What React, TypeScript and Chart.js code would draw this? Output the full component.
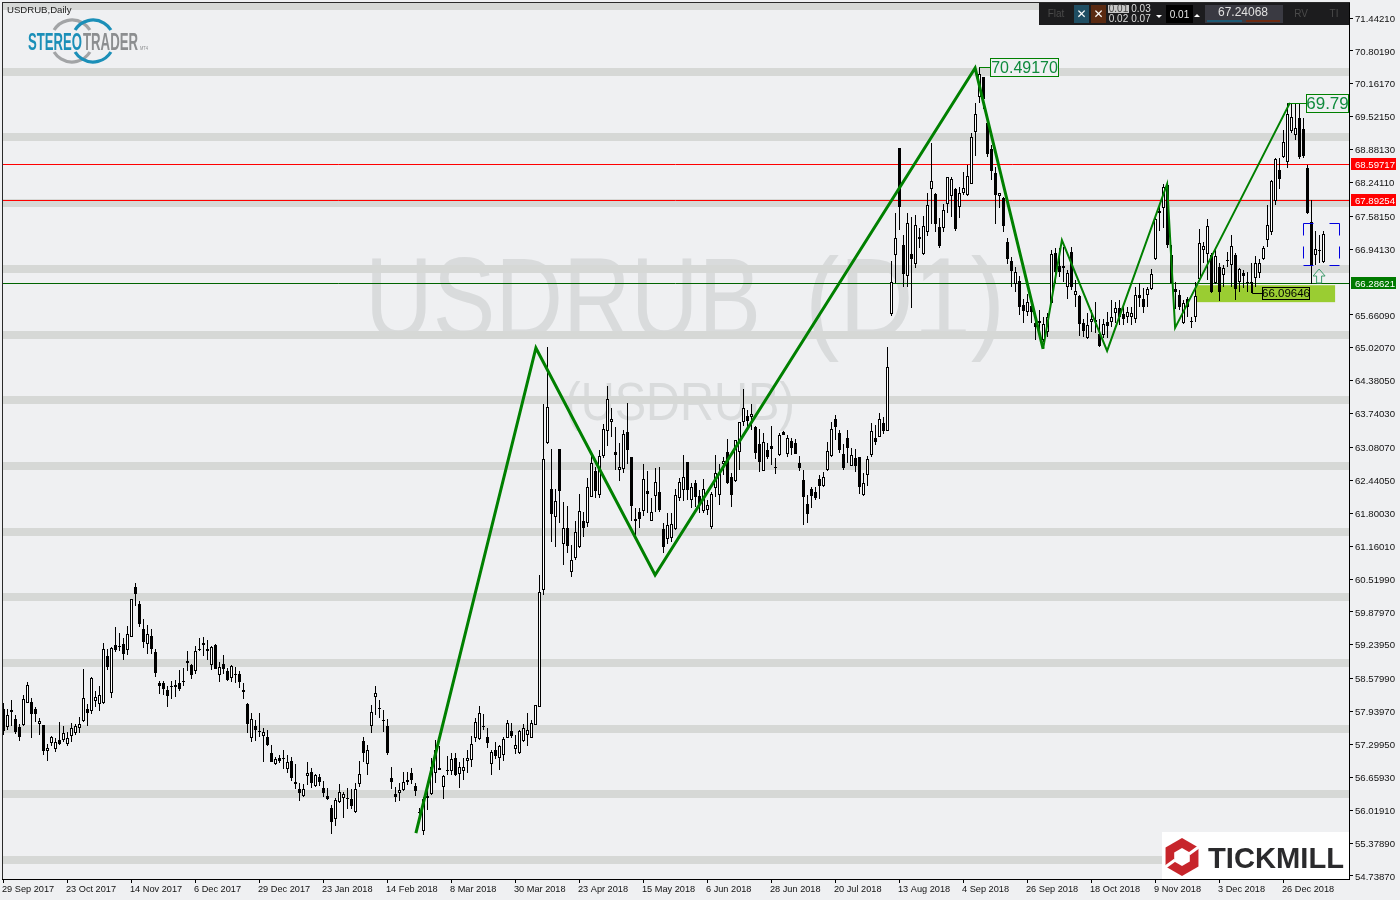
import React, { useEffect, useRef } from "react";
import { Chart, registerables } from "chart.js";

Chart.register(...registerables);

const dateLabels = ["29 Sep 2017","23 Oct 2017","14 Nov 2017","6 Dec 2017","29 Dec 2017","23 Jan 2018","14 Feb 2018","8 Mar 2018","30 Mar 2018","23 Apr 2018","15 May 2018","6 Jun 2018","28 Jun 2018","20 Jul 2018","13 Aug 2018","4 Sep 2018","26 Sep 2018","18 Oct 2018","9 Nov 2018","3 Dec 2018","26 Dec 2018"];
const priceTicks = [71.4421,70.8019,70.1617,69.5215,68.8813,68.2411,67.5815,66.9413,65.6609,65.0207,64.3805,63.7403,63.0807,62.4405,61.8003,61.1601,60.5199,59.8797,59.2395,58.5799,57.9397,57.2995,56.6593,56.0191,55.3789,54.7387];
const bandLevels = [70.391,69.116,67.84,66.556,65.271,64.005,62.72,61.435,60.17,58.885,57.6,56.335,55.05];
const topBandLevel = 71.666;
const redLevels = [68.59717,67.89254];
const greenLevel = 66.28621;

const zigzagThickX = [103.1,133.1,162.9,242.9,259.9];
const zigzagThickY = [55.575,65.018,60.598,70.469,65.0];
const zigzagThinX = [259.9,264.6,275.9,290.9,292.9,321.6];
const zigzagThinY = [65.0,67.12,64.96,68.21,65.41,69.79];

const highs = [
58.10,57.98,58.17,57.87,57.70,58.26,58.51,58.20,58.02,57.82,
57.68,57.30,57.47,57.42,57.73,57.65,57.54,57.71,57.70,57.84,
58.77,58.09,58.61,58.34,58.44,59.27,59.15,59.20,59.59,59.46,
59.37,59.61,60.14,60.44,60.09,59.75,59.63,59.54,59.15,58.53,
58.54,58.44,58.54,58.55,58.75,58.79,59.12,58.86,59.22,59.37,
59.39,59.33,59.22,59.25,58.91,59.04,58.78,58.85,58.81,58.72,
58.49,58.10,57.92,57.78,57.92,57.61,57.59,57.29,57.06,57.09,
57.19,57.09,57.06,56.91,56.54,56.52,56.95,56.85,56.72,56.72,
56.58,56.46,56.12,56.25,56.52,56.38,56.45,56.43,56.54,56.97,
57.44,57.29,58.07,58.44,58.17,57.97,57.79,56.87,56.48,56.54,
56.76,56.76,56.85,56.54,56.07,56.28,56.48,57.03,57.39,57.26,
56.70,57.07,57.13,57.13,56.96,57.03,57.20,57.46,57.81,58.05,
57.89,57.61,57.19,57.35,57.29,57.45,57.78,57.71,57.48,57.59,
57.69,57.91,57.78,58.07,60.60,63.93,65.03,63.06,62.28,63.05,
62.02,61.94,61.19,61.64,62.17,61.83,62.48,62.91,62.71,63.03,
63.54,64.28,63.84,63.47,63.16,63.42,63.94,62.90,61.91,61.90,
62.75,62.63,62.09,62.69,62.71,61.62,61.80,61.80,62.27,62.48,
62.93,62.80,62.38,62.45,62.25,62.46,62.06,62.22,62.93,62.76,
62.90,63.24,62.58,63.23,63.58,64.21,63.81,63.92,63.49,63.45,
63.36,63.16,63.50,62.87,63.36,63.41,63.32,63.26,63.24,62.91,
62.64,62.15,62.32,62.32,62.54,62.60,63.19,63.58,63.71,63.42,
63.15,63.43,63.08,63.06,62.90,62.58,62.91,63.55,63.52,63.76,
63.68,65.03,66.71,67.64,68.91,67.22,67.64,67.57,67.61,67.35,
67.59,68.04,69.00,68.03,67.54,67.83,68.35,68.35,68.13,68.16,
68.45,68.58,69.21,69.78,70.48,70.29,69.55,68.97,68.55,68.03,
67.96,67.15,66.79,66.60,66.41,65.98,66.06,65.85,65.59,65.76,
65.63,65.69,66.92,66.96,66.96,66.99,66.54,66.98,66.34,66.05,
65.59,65.69,65.76,65.92,65.59,65.58,65.72,65.95,65.92,65.95,
65.84,65.82,65.82,66.21,66.28,66.18,66.21,66.55,67.54,67.80,
68.22,68.24,67.02,66.31,66.15,65.95,66.02,65.63,66.31,67.33,
67.09,67.52,66.86,66.93,66.67,66.63,66.89,67.22,66.86,66.57,
66.54,66.50,66.67,66.80,66.76,67.00,67.80,68.29,68.71,68.71,
69.26,69.78,69.78,69.78,69.78,69.49,68.58,67.89,67.30,67.22,
67.30];

const lows = [
57.48,57.58,57.65,57.50,57.37,57.66,58.11,57.43,57.74,57.49,
57.09,56.98,57.26,57.16,57.29,57.34,57.26,57.35,57.48,57.52,
57.74,57.65,57.89,58.02,57.96,58.09,58.75,58.20,59.09,59.11,
58.94,59.04,59.40,60.00,59.58,59.18,59.07,59.06,58.62,58.28,
58.26,58.02,58.18,58.23,58.34,58.44,58.72,58.57,58.68,59.11,
59.03,58.94,58.75,58.76,58.52,58.68,58.53,58.52,58.50,58.40,
58.18,57.53,57.35,57.37,57.45,56.95,57.26,56.95,56.89,56.93,
56.82,56.75,56.59,56.43,56.19,56.28,56.51,56.46,56.48,56.49,
56.28,56.21,55.56,55.72,56.15,55.86,56.05,56.05,55.97,56.48,
56.96,56.70,57.52,57.87,57.82,57.55,57.09,56.43,56.18,56.20,
56.40,56.51,56.53,56.30,55.89,55.54,56.02,56.31,56.54,56.80,
56.24,56.70,56.70,56.69,56.46,56.61,56.75,56.87,57.35,57.39,
57.59,57.24,56.70,57.01,56.80,56.98,57.42,57.42,57.11,57.11,
57.35,57.26,57.42,57.68,58.03,60.20,63.15,61.25,61.15,61.62,
60.79,61.02,60.55,60.89,61.13,61.34,61.54,62.11,62.09,62.09,
62.88,63.11,63.29,62.64,62.43,62.59,62.75,61.64,61.34,61.51,
61.75,61.81,61.64,61.83,61.83,61.03,61.20,61.25,61.47,62.03,
62.03,62.06,61.90,61.93,61.80,61.81,61.77,61.50,62.12,61.96,
62.54,62.37,61.93,62.40,62.64,63.49,63.45,63.42,62.85,62.61,
62.63,62.85,62.74,62.56,62.91,63.32,62.90,62.93,62.95,62.63,
61.57,61.62,61.90,62.05,62.08,62.32,62.63,62.90,63.23,62.97,
62.64,62.77,62.72,62.61,62.17,62.14,62.33,62.90,63.13,63.28,
63.34,63.41,65.64,66.29,67.31,66.21,66.21,65.80,66.57,66.96,
66.83,67.19,67.44,67.28,66.96,67.28,67.65,67.57,67.30,67.54,
67.99,67.98,68.21,68.75,69.78,69.68,68.74,68.29,67.44,67.74,
67.28,66.65,66.21,66.10,65.66,65.50,65.64,65.50,65.17,65.37,
65.14,65.24,65.89,66.28,66.40,66.31,65.97,66.15,65.82,65.25,
65.24,65.19,65.33,65.30,65.04,65.21,65.21,65.43,65.50,65.47,
65.47,65.51,65.47,65.50,65.82,65.70,65.82,66.15,66.74,67.30,
67.35,66.97,66.28,65.77,65.76,65.48,65.63,65.40,65.53,66.34,
66.67,66.34,66.08,66.26,65.94,66.21,66.60,66.21,65.95,66.11,
66.18,66.10,66.08,66.21,66.39,66.73,66.98,67.22,67.80,68.11,
68.71,68.52,69.20,69.07,68.69,68.71,67.63,66.26,66.63,66.67,
66.67];

const opens = [
57.98,57.63,57.97,57.79,57.63,57.68,58.11,58.12,57.99,57.70,
57.68,57.18,57.32,57.22,57.38,57.39,57.30,57.47,57.53,57.61,
57.76,57.98,57.96,58.15,58.08,58.11,59.02,58.30,59.24,59.21,
59.26,59.13,59.40,60.36,60.03,59.54,59.26,59.41,59.09,58.50,
58.49,58.36,58.43,58.45,58.49,58.53,58.92,58.84,58.72,59.16,
59.27,59.15,58.85,59.23,58.66,58.86,58.73,58.59,58.68,58.68,
58.35,58.08,57.42,57.65,57.57,57.46,57.44,57.13,56.92,57.04,
57.03,56.83,56.98,56.52,56.43,56.29,56.68,56.76,56.50,56.66,
56.45,56.30,56.06,55.84,56.17,56.25,56.26,56.23,55.98,56.52,
57.37,56.91,57.66,58.22,58.01,57.78,57.66,56.65,56.34,56.36,
56.41,56.61,56.74,56.50,55.99,55.62,56.30,56.33,56.75,56.85,
56.47,56.81,56.79,57.03,56.73,56.79,56.97,57.00,57.43,57.41,
57.66,57.44,56.91,57.20,57.03,57.10,57.43,57.57,57.22,57.14,
57.37,57.49,57.43,57.68,58.03,60.31,63.16,62.28,61.73,63.05,
61.21,61.52,60.65,60.92,61.14,61.65,61.62,62.12,62.63,62.16,
62.92,63.41,63.58,62.99,62.64,62.67,63.39,62.89,61.64,61.83,
61.85,62.23,61.65,62.14,62.21,61.49,61.29,61.32,61.49,62.10,
62.25,62.80,62.05,62.38,62.14,61.85,61.86,61.54,62.30,62.16,
62.75,62.99,62.51,62.43,63.00,63.58,63.69,63.67,63.47,63.15,
62.63,63.03,63.10,62.70,62.93,63.39,62.95,63.20,63.17,62.77,
62.45,61.98,62.27,62.21,62.47,62.34,62.64,62.91,63.63,63.36,
62.95,63.26,62.73,62.88,62.89,62.15,62.54,62.94,63.26,63.29,
63.55,63.41,65.68,66.83,68.91,67.03,66.41,66.84,66.66,67.17,
66.84,67.27,68.11,68.01,67.37,67.35,67.83,67.98,68.11,67.76,
68.03,68.00,68.22,69.23,69.90,70.29,69.40,68.90,68.42,67.98,
67.93,67.09,66.72,66.26,66.32,65.85,65.71,65.84,65.50,65.55,
65.17,65.32,65.90,66.86,66.61,66.61,66.21,66.88,66.04,66.03,
65.50,65.21,65.53,65.56,65.29,65.27,65.53,65.52,65.69,65.79,
65.68,65.62,65.62,65.58,66.04,65.98,66.04,66.17,66.76,67.64,
67.74,68.19,66.83,66.16,66.05,65.50,65.98,65.54,65.63,66.37,
66.93,66.84,66.82,66.28,66.60,66.43,66.73,66.63,66.83,66.31,
66.48,66.31,66.31,66.39,66.48,66.76,67.12,67.28,67.87,68.48,
68.74,68.63,69.25,69.16,69.49,69.29,68.53,67.48,66.83,66.93,
66.70];

const closes = [
57.57,57.87,57.94,57.54,57.45,58.18,58.46,57.89,57.89,57.75,
57.18,57.24,57.45,57.35,57.30,57.52,57.42,57.61,57.65,57.69,
58.20,57.92,58.59,58.22,58.26,59.15,58.81,59.18,59.14,59.20,
59.06,59.44,60.13,60.23,59.65,59.30,59.44,59.16,58.70,58.44,
58.37,58.25,58.41,58.42,58.38,58.52,58.89,58.66,59.12,59.14,
59.24,59.11,59.19,58.77,58.81,58.77,58.55,58.83,58.66,58.52,
58.33,57.69,57.79,57.59,57.55,57.55,57.28,56.96,57.01,56.97,
57.02,56.95,56.65,56.57,56.36,56.43,56.74,56.54,56.70,56.56,
56.36,56.24,55.78,56.22,56.37,56.33,56.24,56.11,56.43,56.72,
57.13,57.20,57.94,58.31,58.00,57.76,57.14,56.57,56.28,56.41,
56.56,56.57,56.61,56.40,55.98,56.23,56.26,56.87,57.19,56.81,
56.68,56.79,57.01,56.71,56.87,56.87,57.04,57.30,57.73,57.91,
57.63,57.33,57.15,57.07,57.27,57.40,57.71,57.47,57.28,57.57,
57.61,57.59,57.71,58.06,60.27,62.85,63.86,61.78,62.03,62.24,
61.52,61.17,60.90,61.44,61.84,61.52,62.31,62.77,62.24,62.92,
63.45,64.02,63.63,62.93,62.71,63.34,63.03,61.95,61.68,61.69,
62.46,62.18,61.82,62.40,61.86,61.15,61.58,61.60,62.15,62.40,
62.50,62.25,62.31,62.12,61.99,62.28,61.97,62.17,62.58,62.58,
62.82,62.38,62.15,63.23,63.58,63.84,63.60,63.73,62.97,62.80,
63.18,62.90,63.06,62.69,63.32,63.33,63.26,63.08,62.95,62.69,
62.12,61.79,62.14,62.10,62.34,62.50,63.02,63.45,63.48,63.03,
62.68,63.08,62.93,62.73,62.32,62.38,62.85,63.41,63.19,63.63,
63.40,64.64,66.31,67.15,67.77,66.45,67.46,66.76,67.41,67.14,
67.39,67.81,68.26,67.44,67.01,67.70,68.34,68.30,67.34,68.03,
68.13,68.37,69.13,69.57,70.35,69.86,68.79,68.47,67.99,68.03,
67.40,66.75,66.52,66.50,65.81,65.74,65.92,65.72,65.43,65.50,
65.48,65.63,66.85,66.49,66.50,66.58,66.47,66.21,66.12,65.48,
65.35,65.46,65.59,65.53,65.06,65.48,65.45,65.63,65.79,65.63,
65.58,65.71,65.69,66.05,66.00,65.82,66.16,66.45,67.52,67.69,
68.16,67.02,66.29,66.11,65.82,65.89,65.82,65.52,66.03,67.06,
67.00,67.39,66.11,66.80,66.11,66.57,66.71,67.00,66.16,66.55,
66.41,66.29,66.29,66.68,66.68,66.96,67.41,68.27,68.69,68.30,
69.03,69.57,69.51,69.31,68.74,68.76,67.64,66.63,66.95,66.91,
67.23];

const BG = "#eff0f2";
const GREEN = "#008000";
const AXIS_FONT = "9.6px 'Liberation Sans'";
const X_MIN = -0.375;
const X_MAX = 336.375;

const levelLine = (y: number, color: string, width: number, order: number) => ({
  type: "line" as const,
  data: [{ x: X_MIN, y }, { x: X_MAX, y }],
  borderColor: color,
  borderWidth: width,
  pointRadius: 0,
  order,
});

const zigzag = (xs: number[], ys: number[], width: number) => ({
  type: "line" as const,
  data: xs.map((x, i) => ({ x, y: ys[i] })),
  borderColor: GREEN,
  borderWidth: width,
  pointRadius: 0,
  tension: 0,
  order: 0,
});

const candleIdx = highs.map((_, i) => i);
const barBase = { grouped: false, inflateAmount: 0, borderSkipped: false };

const crispPlugin = {
  id: "crisp",
  beforeDatasetsDraw(chart: any) {
    chart.data.datasets.forEach((ds: any, di: number) => {
      const meta = chart.getDatasetMeta(di);
      if (meta.type === "bar") {
        meta.data.forEach((el: any) => {
          const a = Math.round(el.y);
          let b = Math.round(el.base);
          if (a === b) b = a + 1;
          el.y = a;
          el.base = b;
        });
      } else if (meta.type === "line" && ds.data.length === 2) {
        const odd = ds.borderWidth % 2 === 1;
        meta.data.forEach((pt: any) => {
          pt.y = Math.round(pt.y) + (odd ? 0.5 : 0);
        });
      }
    });
  },
};

const backdropPlugin = {
  id: "backdrop",
  beforeDraw(chart: any) {
    const c = chart.ctx;
    c.save();
    c.fillStyle = BG;
    c.fillRect(0, 0, chart.width, chart.height);
    c.restore();
  },
  beforeDatasetsDraw(chart: any) {
    const c = chart.ctx;
    const X = (v: number) => chart.scales.x.getPixelForValue(v);
    const Y = (v: number) => chart.scales.y.getPixelForValue(v);
    c.save();
    c.fillStyle = "#d9dbdc";
    c.textAlign = "left";
    c.textBaseline = "alphabetic";
    c.font = "115px 'Liberation Sans'";
    c.fillText("USDRUB", 365, 338, 396);
    c.fillText("(D1)", 805, 338, 200);
    c.font = "53px 'Liberation Sans'";
    c.fillText("(USDRUB)", 565, 420, 230);
    c.fillStyle = "#9acd32";
    c.fillRect(X(298.1), Y(66.24), X(332.9) - X(298.1), Y(65.91) - Y(66.24));
    c.restore();
  },
};

function stereoLogo(c: CanvasRenderingContext2D) {
  const gap = 0.55;
  const ring = (cx: number, color: string) => {
    c.strokeStyle = color;
    c.lineWidth = 3.2;
    c.beginPath();
    c.arc(cx, 41, 21, Math.PI + gap, 2 * Math.PI - gap);
    c.stroke();
    c.beginPath();
    c.arc(cx, 41, 21, gap, Math.PI - gap);
    c.stroke();
  };
  ring(72, "#a2a4a6");
  ring(93, "#1b8fb8");
  c.textAlign = "left";
  c.textBaseline = "alphabetic";
  c.font = "bold 24px 'Liberation Sans'";
  c.fillStyle = "#1b8fb8";
  c.fillText("STEREO", 28, 50, 54);
  c.fillStyle = "#8c8e90";
  c.fillText("TRADER", 83, 50, 55);
  c.font = "5px 'Liberation Sans'";
  c.fillText("MT4", 140, 50, 8);
}

function tickmillLogo(c: CanvasRenderingContext2D) {
  c.fillStyle = "#ffffff";
  c.fillRect(1162, 832, 187, 47);
  const cx = 1182, cy = 857;
  const hex = (r: number) => {
    c.beginPath();
    for (let k = 0; k < 6; k++) {
      const a = -Math.PI / 2 + (k * Math.PI) / 3;
      const px = cx + r * Math.cos(a);
      const py = cy + r * Math.sin(a);
      if (k === 0) c.moveTo(px, py);
      else c.lineTo(px, py);
    }
    c.closePath();
  };
  c.fillStyle = "#c7252b";
  hex(19);
  c.fill();
  c.fillStyle = "#ffffff";
  hex(9);
  c.fill();
  c.strokeStyle = "#ffffff";
  c.lineWidth = 3;
  c.beginPath();
  c.moveTo(cx + 7, cy - 3);
  c.lineTo(cx + 18, cy - 11);
  c.moveTo(cx - 7, cy + 3);
  c.lineTo(cx - 18, cy + 11);
  c.stroke();
  c.fillStyle = "#2a2a2c";
  c.font = "bold 29.5px 'Liberation Sans'";
  c.textAlign = "left";
  c.textBaseline = "alphabetic";
  c.fillText("TICKMILL", 1208, 868, 136);
}

function toolbar(c: CanvasRenderingContext2D) {
  c.fillStyle = "#1c1c1e";
  c.fillRect(1039, 3, 310, 22);
  c.textBaseline = "middle";
  c.textAlign = "center";
  const txt = (s: string, x: number, y: number, color: string, font = "10px 'Liberation Sans'") => {
    c.font = font;
    c.fillStyle = color;
    c.fillText(s, x, y);
  };
  txt("Flat", 1056, 14, "#4a4a4a");
  c.fillStyle = "#1f4e63";
  c.fillRect(1074, 5, 15, 18);
  c.fillStyle = "#5a2a12";
  c.fillRect(1091, 5, 15, 18);
  txt("✕", 1081.5, 14.5, "#ffffff", "bold 12px 'DejaVu Sans'");
  txt("✕", 1098.5, 14.5, "#ffffff", "bold 12px 'DejaVu Sans'");
  c.fillStyle = "#c8c8c8";
  c.fillRect(1108, 5, 21, 8);
  txt("0.01", 1118.5, 9.5, "#444444");
  txt("0.02", 1118.5, 19, "#dddddd");
  txt("0.03", 1141, 9.5, "#dddddd");
  txt("0.07", 1141, 19, "#dddddd");
  c.fillStyle = "#ffffff";
  c.beginPath();
  c.moveTo(1156, 15);
  c.lineTo(1162, 15);
  c.lineTo(1159, 18);
  c.closePath();
  c.fill();
  c.fillStyle = "#000000";
  c.fillRect(1166, 5, 27, 18);
  txt("0.01", 1179.5, 15, "#e8e8e8");
  c.fillStyle = "#ffffff";
  c.beginPath();
  c.moveTo(1194, 17);
  c.lineTo(1200, 17);
  c.lineTo(1197, 14);
  c.closePath();
  c.fill();
  c.fillStyle = "#3a3a42";
  c.fillRect(1205, 5, 78, 18);
  txt("67.24068", 1243, 13, "#e0e0e0", "12px 'Liberation Sans'");
  c.fillStyle = "#1d5a75";
  c.fillRect(1207, 20, 35, 2);
  c.fillStyle = "#6e2a10";
  c.fillRect(1246, 20, 34, 2);
  txt("RV", 1301, 14, "#4a4a4a");
  txt("TI", 1334, 14, "#4a4a4a");
}

const overlayPlugin = {
  id: "overlay",
  afterDatasetsDraw(chart: any) {
    const c = chart.ctx;
    const X = (v: number) => chart.scales.x.getPixelForValue(v);
    const Y = (v: number) => chart.scales.y.getPixelForValue(v);
    c.save();
    // chart frame
    c.fillStyle = "#2a2a2a";
    c.fillRect(2, 2, 1348, 1);
    c.fillRect(2, 2, 1, 877);

    // peak labels
    const box = (text: string, i: number, price: number, x0: number, w: number, h: number, color: string, textColor: string, font: string) => {
      const py = Math.round(Y(price));
      c.strokeStyle = color;
      c.lineWidth = 1;
      c.beginPath();
      c.moveTo(Math.round(X(i)) + 0.5, py + 0.5);
      c.lineTo(x0, py + 0.5);
      c.stroke();
      const top = py - 9;
      c.fillStyle = BG;
      c.fillRect(x0, top, w, h);
      c.strokeRect(x0 + 0.5, top + 0.5, w - 1, h - 1);
      c.fillStyle = textColor;
      c.font = font;
      c.textAlign = "center";
      c.textBaseline = "middle";
      c.fillText(text, x0 + w / 2, top + h / 2 + 1);
    };
    box("70.49170", 243.8, 70.4917, 990, 69, 19, GREEN, "#0f8a3c", "16px 'Liberation Sans'");
    box("69.79", 320.9, 69.79, 1306, 43, 19, GREEN, "#0f8a3c", "17px 'Liberation Sans'");

    // support label
    c.strokeStyle = "#000000";
    c.lineWidth = 1;
    c.beginPath();
    c.moveTo(1252.5, 283);
    c.lineTo(1252.5, 293.5);
    c.lineTo(1262, 293.5);
    c.stroke();
    c.strokeRect(1262.5, 287.5, 47, 12);
    c.fillStyle = "#000000";
    c.font = "11.5px 'Liberation Sans'";
    c.textAlign = "center";
    c.textBaseline = "middle";
    c.fillText("66.09646", 1286, 294);

    // dashed selection box
    const bl = Math.round(X(324.9)) + 0.5;
    const br = Math.round(X(333.9)) + 0.5;
    const bt = Math.round(Y(67.45)) + 0.5;
    const bb = Math.round(Y(66.63)) + 0.5;
    c.strokeStyle = "#0000dd";
    c.setLineDash([10, 16]);
    c.beginPath();
    c.moveTo(bl, bt);
    c.lineTo(br, bt);
    c.moveTo(bl, bb);
    c.lineTo(br, bb);
    c.stroke();
    c.setLineDash([12, 11]);
    c.beginPath();
    c.moveTo(bl, bt);
    c.lineTo(bl, bb);
    c.moveTo(br, bt);
    c.lineTo(br, bb);
    c.stroke();
    c.setLineDash([]);

    // hollow arrow
    const ax = X(328.9);
    c.strokeStyle = "#3c9a6a";
    c.beginPath();
    c.moveTo(ax, 269);
    c.lineTo(ax + 6, 276);
    c.lineTo(ax + 2.5, 276);
    c.lineTo(ax + 2.5, 283);
    c.lineTo(ax - 2.5, 283);
    c.lineTo(ax - 2.5, 276);
    c.lineTo(ax - 6, 276);
    c.closePath();
    c.stroke();

    // title
    c.fillStyle = "#222222";
    c.font = "9.6px 'Liberation Sans'";
    c.textAlign = "left";
    c.textBaseline = "middle";
    c.fillText("USDRUB,Daily", 7, 10);

    stereoLogo(c);
    tickmillLogo(c);
    toolbar(c);

    // coloured price tags
    const tag = (price: number, color: string) => {
      const py = Math.round(Y(price));
      c.fillStyle = color;
      c.fillRect(1351, py - 6, 45, 12);
      c.fillStyle = "#ffffff";
      c.font = AXIS_FONT;
      c.textAlign = "left";
      c.textBaseline = "middle";
      c.fillText(price.toFixed(5), 1355, py + 1);
    };
    redLevels.forEach((p) => tag(p, "#ff0000"));
    tag(greenLevel, "#007a00");
    c.restore();
  },
};

export default function App() {
  const ref = useRef<HTMLCanvasElement | null>(null);

  useEffect(() => {
    document.body.style.margin = "0";
    document.body.style.background = BG;
    const chart = new Chart(ref.current as HTMLCanvasElement, {
      type: "bar",
      data: {
        datasets: [
          zigzag(zigzagThickX, zigzagThickY, 3),
          zigzag(zigzagThinX, zigzagThinY, 2),
          {
            ...barBase,
            data: candleIdx.filter((i) => closes[i] < opens[i]).map((i) => ({ x: i, y: [closes[i], opens[i]] })),
            barThickness: 3,
            backgroundColor: "#000000",
            borderWidth: 0,
            order: 1,
          },
          {
            ...barBase,
            data: candleIdx.filter((i) => closes[i] >= opens[i]).map((i) => ({ x: i, y: [opens[i], closes[i]] })),
            barThickness: 3,
            backgroundColor: "#ffffff",
            borderColor: "#000000",
            borderWidth: 1,
            order: 1,
          },
          {
            ...barBase,
            data: candleIdx.map((i) => ({ x: i, y: [lows[i], highs[i]] })),
            barThickness: 1,
            backgroundColor: "#000000",
            borderWidth: 0,
            order: 2,
          },
          ...redLevels.map((p) => levelLine(p, "#ff0000", 1, 3)),
          levelLine(greenLevel, "#006400", 1, 3),
          levelLine(topBandLevel, "#d6d8d6", 7, 4),
          ...bandLevels.map((p) => levelLine(p, "#d6d8d6", 8, 4)),
        ] as any,
      },
      plugins: [backdropPlugin, crispPlugin, overlayPlugin],
      options: {
        animation: false,
        responsive: false,
        devicePixelRatio: 1,
        layout: { padding: { left: 2, top: 2, right: 0, bottom: 0 } },
        plugins: { legend: { display: false }, title: { display: false }, tooltip: { enabled: false } },
        events: [],
        scales: {
          x: {
            type: "linear",
            offset: false,
            min: X_MIN,
            max: X_MAX,
            afterBuildTicks(scale: any) {
              scale.ticks = dateLabels.map((_, k) => ({ value: -0.125 + 16 * k }));
            },
            afterFit(scale: any) {
              scale.height = 21;
              scale.paddingLeft = 0;
              scale.paddingRight = 0;
            },
            grid: { drawOnChartArea: false, drawTicks: true, tickLength: 4, color: "#000000", offset: false },
            border: { display: true, color: "#000000" },
            ticks: {
              autoSkip: false,
              maxRotation: 0,
              minRotation: 0,
              align: "start",
              padding: 1,
              labelOffset: -1,
              color: "#111111",
              font: { family: "'Liberation Sans'", size: 9.2 },
              callback: (_v: any, i: number) => dateLabels[i],
            },
          },
          y: {
            type: "linear",
            position: "right",
            min: 54.68,
            max: 71.7536,
            afterBuildTicks(scale: any) {
              scale.ticks = priceTicks.map((value) => ({ value }));
            },
            afterFit(scale: any) {
              scale.width = 51;
              scale.paddingTop = 0;
              scale.paddingBottom = 0;
            },
            grid: { drawOnChartArea: false, drawTicks: true, tickLength: 4, color: "#000000" },
            border: { display: true, color: "#000000" },
            ticks: {
              autoSkip: false,
              padding: 2,
              labelOffset: 1,
              color: "#111111",
              font: { family: "'Liberation Sans'", size: 9.6 },
              callback: (v: any) => Number(v).toFixed(5),
            },
          },
        },
      } as any,
    });
    return () => chart.destroy();
  }, []);

  return <canvas ref={ref} width={1400} height={900} style={{ display: "block", width: 1400, height: 900 }} />;
}
